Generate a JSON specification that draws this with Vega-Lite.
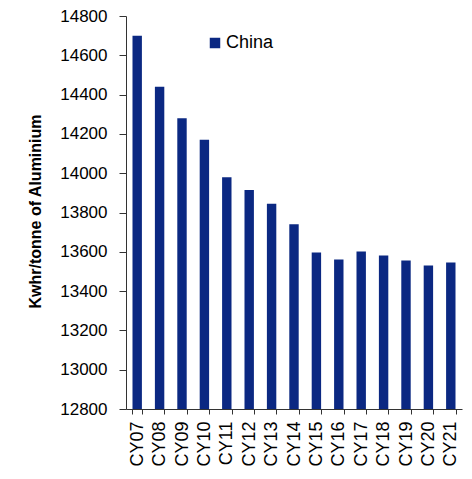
{
  "$schema": "https://vega.github.io/schema/vega-lite/v6.json",
  "width": 336,
  "height": 393,
  "autosize": "none",
  "padding": {"left": 126, "top": 16, "right": 10, "bottom": 70},
  "background": "white",
  "config": {
    "view": {"stroke": null},
    "font": "Liberation Sans",
    "axis": {"domainColor": "#333333", "tickColor": "#333333", "labelColor": "#000000", "titleColor": "#000000", "grid": false}
  },
  "data": {
    "values": [
      {"year": "CY07", "country": "China", "kwh": 14700},
      {"year": "CY08", "country": "China", "kwh": 14440},
      {"year": "CY09", "country": "China", "kwh": 14280},
      {"year": "CY10", "country": "China", "kwh": 14170},
      {"year": "CY11", "country": "China", "kwh": 13980},
      {"year": "CY12", "country": "China", "kwh": 13915},
      {"year": "CY13", "country": "China", "kwh": 13845},
      {"year": "CY14", "country": "China", "kwh": 13740},
      {"year": "CY15", "country": "China", "kwh": 13596},
      {"year": "CY16", "country": "China", "kwh": 13561},
      {"year": "CY17", "country": "China", "kwh": 13601},
      {"year": "CY18", "country": "China", "kwh": 13581},
      {"year": "CY19", "country": "China", "kwh": 13556},
      {"year": "CY20", "country": "China", "kwh": 13530},
      {"year": "CY21", "country": "China", "kwh": 13545}
    ]
  },
  "mark": {"type": "bar", "clip": true},
  "encoding": {
    "x": {
      "field": "year",
      "type": "nominal",
      "sort": null,
      "scale": {"paddingInner": 0.58, "paddingOuter": 0.29},
      "axis": {
        "title": null,
        "labelAngle": -90,
        "labelAlign": "right",
        "labelBaseline": "middle",
        "labelFontSize": 18,
        "labelPadding": 7,
        "tickSize": 5,
        "tickBand": "extent"
      }
    },
    "y": {
      "field": "kwh",
      "type": "quantitative",
      "scale": {"domain": [12800, 14800], "zero": false, "nice": false},
      "axis": {
        "title": "Kwhr/tonne of Aluminium",
        "values": [12800, 13000, 13200, 13400, 13600, 13800, 14000, 14200, 14400, 14600, 14800],
        "format": "d",
        "labelFontSize": 17,
        "labelPadding": 12,
        "tickSize": 7,
        "titleFontSize": 16,
        "titleFontWeight": "bold",
        "titleAngle": -90,
        "titleAlign": "center",
        "titleBaseline": "middle",
        "titleX": -91,
        "titleY": 195
      }
    },
    "color": {
      "field": "country",
      "type": "nominal",
      "scale": {"range": ["#0B2882"]},
      "legend": {
        "title": null,
        "orient": "none",
        "legendX": 80,
        "legendY": 18,
        "symbolType": "square",
        "symbolSize": 110,
        "symbolStrokeWidth": 0,
        "labelFontSize": 18,
        "labelOffset": 2,
        "labelColor": "#000000"
      }
    }
  }
}
